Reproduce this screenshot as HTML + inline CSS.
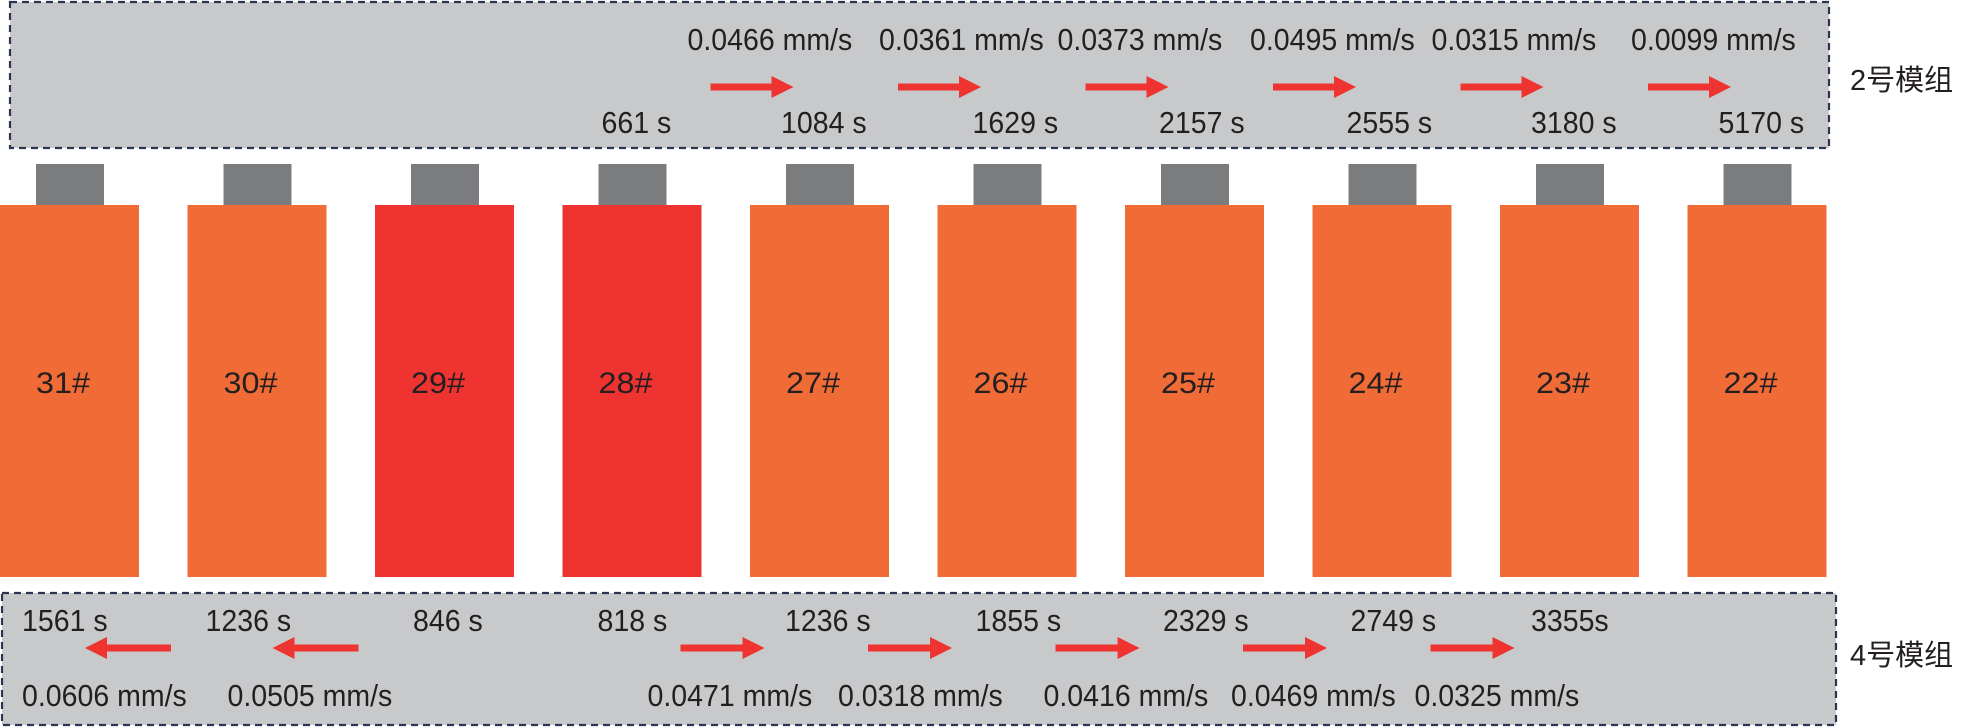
<!DOCTYPE html>
<html><head><meta charset="utf-8">
<style>
html,body{margin:0;padding:0;background:#fff;}
svg{display:block;}
text{font-family:"Liberation Sans","Noto Sans CJK SC",sans-serif;fill:#231f20;}
</style></head>
<body>
<svg id="chart" width="1964" height="727" viewBox="0 0 1964 727" xmlns="http://www.w3.org/2000/svg">
  <rect x="10" y="2" width="1819" height="146" fill="#c8c9cb" stroke="#2b3450" stroke-width="2.2" stroke-dasharray="7,5"/>
  <rect x="2" y="593" width="1834" height="132" fill="#c8c9cb" stroke="#2b3450" stroke-width="2.2" stroke-dasharray="7,5"/>
  <text x="1850" y="90" font-size="29">2号模组</text>
  <text x="1850" y="665" font-size="29">4号模组</text>
  <g id="cells"></g>
  <g id="top"></g>
  <g id="bottom"></g>
</svg>
<script>
const cellNames = ["31#","30#","29#","28#","27#","26#","25#","24#","23#","22#"];
const cellHot = [0,0,1,1,0,0,0,0,0,0];
const topTimes = ["661 s","1084 s","1629 s","2157 s","2555 s","3180 s","5170 s"];
const topSpeeds = ["0.0466 mm/s","0.0361 mm/s","0.0373 mm/s","0.0495 mm/s","0.0315 mm/s","0.0099 mm/s"];
const botTimes = ["1561 s","1236 s","846 s","818 s","1236 s","1855 s","2329 s","2749 s","3355s"];
const botSpeeds = ["0.0606 mm/s","0.0505 mm/s","0.0471 mm/s","0.0318 mm/s","0.0416 mm/s","0.0469 mm/s","0.0325 mm/s"];
const botDirs = [-1,-1,1,1,1,1,1];

const NS="http://www.w3.org/2000/svg";
function mk(tag, attrs, parent){const e=document.createElementNS(NS,tag);for(const k in attrs)e.setAttribute(k,attrs[k]);parent.appendChild(e);return e;}
const PITCH=187.5, CW=139;
function cellX(i){return i*PITCH;}
const CWID={'.':0.278,' ':0.278,'m':0.833,'/':0.278,'s':0.5,'#':0.556};
function emWidth(s){let w=0;for(const c of s)w+=(CWID[c]!==undefined?CWID[c]:0.556);return w;}

const gc=document.getElementById('cells');
cellNames.forEach((n,i)=>{
  const x=cellX(i);
  const cap=mk('rect',{x:x+36,y:164,width:68,height:41,fill:'#7b7c7e'},gc);
  
  
  const r=mk('rect',{x:x,y:205,width:CW,height:372,fill:cellHot[i]?'#ee3331':'#f06b36'},gc);
  
  
  const t=mk('text',{x:x+36,y:393,'font-size':30},gc);
  t.textContent=n;
  
  
  t.setAttribute('textLength',54);
  t.setAttribute('lengthAdjust','spacingAndGlyphs');
});

function arrow(g,x1,x2,y){
  const dir=x2>x1?1:-1, hl=22, hw=11, sw=3.5;
  const xb=x2-dir*hl;
  const p=mk('polygon',{points:`${x1},${y-sw} ${xb},${y-sw} ${xb},${y-hw} ${x2},${y} ${xb},${y+hw} ${xb},${y+sw} ${x1},${y+sw}`,fill:'#ee3331'},g);
  
  
}
function label(g,s,x,y,name){
  const t=mk('text',{x:x,y:y,'font-size':31},g);
  t.textContent=s;
  
  
  t.setAttribute('textLength',(emWidth(s)*31*0.92).toFixed(1));
  t.setAttribute('lengthAdjust','spacingAndGlyphs');
}

const topTimeOff=[39,31,35,34,34,31,31];
const topSpeedOff=[125,129,120,125,119,131];
const gt=document.getElementById('top');
topTimes.forEach((s,k)=>{
  const i=k+3;
  label(gt,s,cellX(i)+topTimeOff[k],133,'module-2-time');
});
topSpeeds.forEach((s,k)=>{
  const i=k+3;
  label(gt,s,cellX(i)+topSpeedOff[k],50,'module-2-speed');
  arrow(gt,cellX(i)+148,cellX(i)+231,87);
});

const botTimeOff=[22,18,38,35,35,38,38,38,31];
const botSpeedOff=[22,40,85,88,106,106,102];
const gb=document.getElementById('bottom');
botTimes.forEach((s,i)=>{
  label(gb,s,cellX(i)+botTimeOff[i],631,'module-4-time');
});
botSpeeds.forEach((s,k)=>{
  const i=k<2?k:k+1;
  const d=botDirs[k];
  if(d<0){
    arrow(gb,cellX(i)+171,cellX(i)+85,648);
  }else{
    arrow(gb,cellX(i)+118,cellX(i)+202,648);
  }
  label(gb,s,cellX(i)+botSpeedOff[k],706,'module-4-speed');
});
</script>
</body></html>
